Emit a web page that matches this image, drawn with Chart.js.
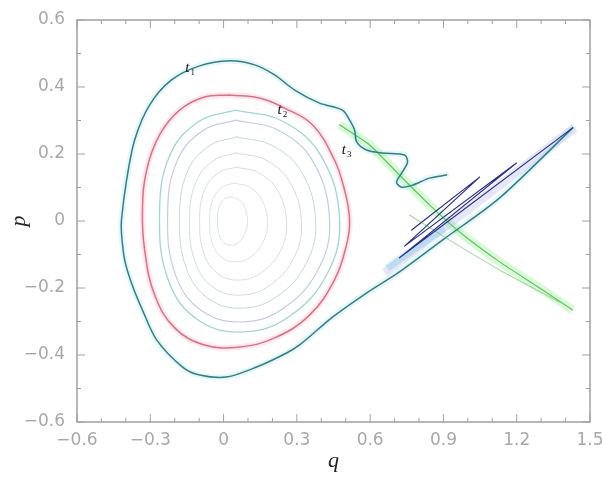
<!DOCTYPE html>
<html>
<head>
<meta charset="utf-8">
<script src="https://cdn.jsdelivr.net/npm/chart.js@4.4.1/dist/chart.umd.min.js"></script>
<style>
  html, body { margin: 0; padding: 0; background: #fff; }
  #wrap { width: 602px; height: 480px; }
</style>
</head>
<body>
<div id="wrap"><canvas id="phase"></canvas></div>
<script>
// axis ticks
const xTicks = [-0.6, -0.3, 0, 0.3, 0.6, 0.9, 1.2, 1.5];
const yTicks = [-0.6, -0.4, -0.2, 0, 0.2, 0.4, 0.6];
const xMinor = [-0.5, -0.4, -0.2, -0.1, 0.1, 0.2, 0.4, 0.5, 0.7, 0.8, 1.0, 1.1, 1.3, 1.4];
const yMinor = [-0.5, -0.3, -0.1, 0.1, 0.3, 0.5];

// curve labels t1, t2, t3 (q, p)
const tNames = ['1', '2', '3'];
const tQ = [-0.14, 0.237, 0.5];
const tP = [0.457, 0.331, 0.212];

// outer curve (q, p): from the wiggle end near t3, over the top, around the left, to the fold tip
const outerCurve = [
  [0.913, 0.137], [0.843, 0.128], [0.774, 0.107], [0.729, 0.101], [0.708, 0.116],
  [0.729, 0.143], [0.753, 0.176], [0.741, 0.197], [0.651, 0.203], [0.585, 0.212],
  [0.545, 0.236], [0.536, 0.272], [0.516, 0.301], [0.487, 0.331], [0.393, 0.352],
  [0.291, 0.391], [0.209, 0.436], [0.127, 0.466], [0.025, 0.478], [-0.098, 0.463],
  [-0.213, 0.421], [-0.303, 0.346], [-0.364, 0.242], [-0.397, 0.122], [-0.418, 0.003],
  [-0.418, -0.036], [-0.405, -0.116], [-0.377, -0.185], [-0.332, -0.266], [-0.274, -0.355],
  [-0.168, -0.436], [-0.098, -0.46], [0.012, -0.466], [0.135, -0.436], [0.258, -0.394],
  [0.311, -0.37], [0.446, -0.287], [0.585, -0.215], [0.72, -0.152], [0.896, -0.057],
  [1.13, 0.069], [1.429, 0.278]
];
// folded blue filaments
const foldBlue = [
  [1.429, 0.278], [0.72, -0.11], [1.199, 0.173], [0.741, -0.075], [1.048, 0.131], [0.77, -0.027]
];
const lavenderBand = [[0.66, -0.155], [1.437, 0.278]];
const cyanBand = [[0.67, -0.14], [0.905, -0.021]];
// green tail
const greenA = [
  [0.475, 0.287], [0.598, 0.227], [0.72, 0.137], [0.843, 0.048], [0.966, -0.033],
  [1.13, -0.122], [1.294, -0.2], [1.429, -0.266]
];
const greenB = [[0.761, 0.018], [0.925, -0.057], [1.13, -0.146], [1.375, -0.242]];

// red torus (t2)
const redCurve = [
  [0.025, 0.376], [0.147, 0.367], [0.25, 0.337], [0.364, 0.287], [0.454, 0.182],
  [0.495, 0.093], [0.516, 0.003], [0.503, -0.072], [0.454, -0.176], [0.352, -0.281],
  [0.209, -0.349], [0.065, -0.376], [-0.078, -0.37], [-0.2, -0.319], [-0.282, -0.221],
  [-0.323, -0.087], [-0.332, 0.033], [-0.315, 0.152], [-0.262, 0.257], [-0.18, 0.331],
  [-0.078, 0.37], [0.025, 0.376]
];

// inner invariant circles, outermost first
const ringA = [[0.048, 0.331], [0.244, 0.297], [0.401, 0.192], [0.475, 0.003], [0.423, -0.159], [0.269, -0.285], [0.084, -0.331], [-0.1, -0.298], [-0.225, -0.179], [-0.262, 0.026], [-0.218, 0.199], [-0.1, 0.298], [0.048, 0.331]];
const ringB = [[0.049, 0.301], [0.226, 0.27], [0.368, 0.175], [0.434, 0.002], [0.388, -0.144], [0.248, -0.259], [0.083, -0.301], [-0.083, -0.271], [-0.196, -0.163], [-0.229, 0.024], [-0.189, 0.181], [-0.083, 0.271], [0.049, 0.301]];
const ringC = [[0.054, 0.251], [0.202, 0.224], [0.321, 0.144], [0.377, -0.002], [0.338, -0.127], [0.221, -0.224], [0.082, -0.26], [-0.057, -0.234], [-0.152, -0.142], [-0.18, 0.016], [-0.147, 0.149], [-0.057, 0.225], [0.054, 0.251]];
const ringD = [[0.053, 0.203], [0.175, 0.181], [0.273, 0.114], [0.319, -0.007], [0.287, -0.111], [0.191, -0.191], [0.076, -0.221], [-0.038, -0.2], [-0.116, -0.123], [-0.139, 0.008], [-0.112, 0.118], [-0.038, 0.182], [0.053, 0.203]];
const ringE = [[0.052, 0.161], [0.146, 0.143], [0.222, 0.09], [0.258, -0.006], [0.233, -0.088], [0.158, -0.152], [0.069, -0.176], [-0.02, -0.159], [-0.08, -0.098], [-0.098, 0.006], [-0.077, 0.094], [-0.02, 0.144], [0.052, 0.161]];
const ringF = [[0.043, 0.113], [0.106, 0.101], [0.156, 0.064], [0.18, -0.004], [0.163, -0.061], [0.114, -0.106], [0.054, -0.122], [-0.005, -0.11], [-0.045, -0.068], [-0.057, 0.005], [-0.043, 0.066], [-0.005, 0.101], [0.043, 0.113]];
const ringG = [[0.027, 0.072], [0.059, 0.065], [0.086, 0.042], [0.098, 0.001], [0.089, -0.035], [0.064, -0.062], [0.033, -0.072], [0.002, -0.065], [-0.019, -0.039], [-0.025, 0.006], [-0.018, 0.043], [0.002, 0.065], [0.027, 0.072]];

const toXY = arr => arr.map(([q, p]) => ({ x: q, y: p }));

function curve(arr, color, width, order, tension, cap) {
  return {
    data: toXY(arr),
    showLine: true,
    borderColor: color,
    borderWidth: width,
    pointRadius: 0,
    tension: tension === undefined ? 0.4 : tension,
    borderCapStyle: cap || 'round',
    borderJoinStyle: 'round',
    order: order
  };
}

function fmt(v) {
  if (Math.abs(v) < 1e-9) return '0';
  const s = Math.abs(v).toFixed(1);
  return v < 0 ? '\u2212' + s : s;
}

// inward ticks, frame and t labels
const framePlugin = {
  id: 'framePlugin',
  afterDatasetsDraw(chart) {
    const { ctx, chartArea: a, scales: { x, y } } = chart;
    ctx.save();
    ctx.strokeStyle = '#a0a0a0';
    ctx.lineWidth = 1.5;
    ctx.strokeRect(a.left, a.top, a.right - a.left, a.bottom - a.top);
    ctx.lineWidth = 1;
    ctx.beginPath();
    const xt = (v, len) => {
      const px = x.getPixelForValue(v);
      ctx.moveTo(px, a.bottom); ctx.lineTo(px, a.bottom - len);
      ctx.moveTo(px, a.top); ctx.lineTo(px, a.top + len);
    };
    const yt = (v, len) => {
      const py = y.getPixelForValue(v);
      ctx.moveTo(a.left, py); ctx.lineTo(a.left + len, py);
      ctx.moveTo(a.right, py); ctx.lineTo(a.right - len, py);
    };
    xTicks.forEach(v => xt(v, 8));
    xMinor.forEach(v => xt(v, 4));
    yTicks.forEach(v => yt(v, 8));
    yMinor.forEach(v => yt(v, 4));
    ctx.stroke();

    ctx.fillStyle = '#111';
    ctx.textBaseline = 'alphabetic';
    tNames.forEach((n, i) => {
      const px = x.getPixelForValue(tQ[i]);
      const py = y.getPixelForValue(tP[i]);
      ctx.font = 'italic 15px "Liberation Serif"';
      ctx.fillText('t', px - 4, py + 4);
      const w = ctx.measureText('t').width;
      ctx.font = '9px "Liberation Serif"';
      ctx.fillText(n, px - 4 + w + 1, py + 7);
    });
    ctx.restore();
  }
};

const ctx = document.getElementById('phase').getContext('2d');

new Chart(ctx, {
  type: 'scatter',
  data: {
    datasets: [
      curve(foldBlue, '#2a2f8f', 1.2, 1, 0),
      curve(outerCurve, '#2e7f8c', 1.5, 2, 0.3),
      curve(greenA, 'rgba(70,190,70,0.85)', 1.2, 4, 0.2),
      curve(greenB, 'rgba(90,200,90,0.6)', 1.1, 5, 0.2),
      curve(lavenderBand, 'rgba(130,130,230,0.2)', 9, 6, 0, 'butt'),
      curve(cyanBand, 'rgba(80,210,220,0.3)', 7, 7, 0, 'butt'),
      curve(greenA, 'rgba(130,235,130,0.3)', 9, 8, 0.2, 'butt'),
      curve(outerCurve, 'rgba(110,210,210,0.18)', 6, 9, 0.3),
      curve(redCurve, '#e46c82', 1.5, 10),
      curve(redCurve, 'rgba(240,150,170,0.2)', 6, 11),
      curve(ringA, 'rgba(60,175,170,0.5)', 1.3, 12),
      curve(ringB, 'rgba(120,140,215,0.45)', 1.2, 13),
      curve(ringC, 'rgba(120,155,160,0.4)', 1, 14),
      curve(ringD, 'rgba(130,160,165,0.36)', 1, 15),
      curve(ringE, 'rgba(140,165,170,0.34)', 1, 16),
      curve(ringF, 'rgba(150,170,175,0.32)', 1, 17),
      curve(ringG, 'rgba(150,170,175,0.32)', 1, 18)
    ]
  },
  options: {
    responsive: true,
    maintainAspectRatio: false,
    animation: false,
    layout: { padding: { top: 20, right: 12, left: 0, bottom: 0 } },
    plugins: { legend: { display: false }, tooltip: { enabled: false } },
    scales: {
      x: {
        type: 'linear',
        min: -0.6,
        max: 1.5,
        afterBuildTicks: s => { s.ticks = xTicks.map(v => ({ value: v })); },
        afterFit: s => { s.height = 58; s.paddingLeft = 0; s.paddingRight = 0; },
        grid: { display: false, drawTicks: false },
        border: { display: false },
        ticks: {
          color: '#a8a8a8',
          font: { family: 'DejaVu Sans', size: 17 },
          padding: 8,
          maxRotation: 0,
          callback: v => fmt(v)
        },
        title: {
          display: true,
          text: 'q',
          color: '#222',
          font: { family: 'Liberation Serif', style: 'italic', size: 22 },
          padding: { top: 0, bottom: 6 }
        }
      },
      y: {
        type: 'linear',
        min: -0.6,
        max: 0.6,
        afterBuildTicks: s => { s.ticks = yTicks.map(v => ({ value: v })); },
        afterFit: s => { s.width = 77; s.paddingTop = 0; s.paddingBottom = 0; },
        grid: { display: false, drawTicks: false },
        border: { display: false },
        ticks: {
          color: '#a8a8a8',
          font: { family: 'DejaVu Sans', size: 17 },
          padding: 12,
          callback: v => fmt(v)
        },
        title: {
          display: true,
          text: 'p',
          color: '#222',
          font: { family: 'Liberation Serif', style: 'italic', size: 22 },
          padding: { top: 6, bottom: 0 }
        }
      }
    }
  },
  plugins: [framePlugin]
});
</script>
</body>
</html>
